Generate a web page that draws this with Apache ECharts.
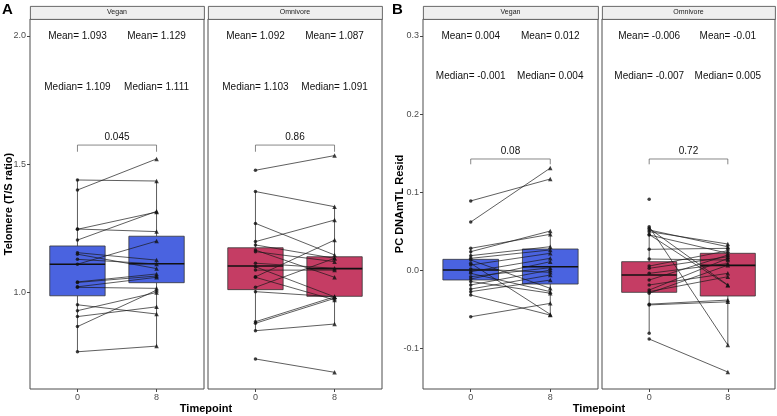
<!DOCTYPE html>
<html>
<head>
<meta charset="utf-8">
<script src="https://cdn.jsdelivr.net/npm/echarts@6/dist/echarts.min.js"></script>
<style>
  html, body { margin: 0; padding: 0; background: #fff; }
  #chart { width: 777px; height: 416px; }
</style>
</head>
<body>
<div id="chart"></div>
<script>
// categories
var timepoints = ['0', '8'];
var facets = ['Vegan', 'Omnivore'];

// panel A: telomere T/S ratio, one row per participant [week 0, week 8]
var telVegan = [
  [1.439, 1.435], [1.400, 1.521], [1.248, 1.238], [1.247, 1.314], [1.205, 1.317],
  [1.156, 1.127], [1.150, 1.094], [1.130, 1.112], [1.111, 1.201], [1.042, 1.073],
  [1.040, 1.065], [1.021, 1.017], [1.023, 1.060], [0.953, 0.917], [0.930, 1.001],
  [0.907, 0.945], [0.868, 1.010], [0.770, 0.792]
];
var telOmni = [
  [1.477, 1.534], [1.394, 1.335], [1.270, 1.147], [1.199, 1.283], [1.186, 1.134],
  [1.166, 1.060], [1.160, 1.121], [1.115, 1.095], [1.101, 0.984], [1.088, 1.088],
  [1.062, 1.205], [1.060, 0.972], [1.021, 1.134], [1.004, 0.984], [0.887, 0.984],
  [0.881, 0.978], [0.852, 0.878], [0.742, 0.690]
];

// panel B: PC DNAmTL residuals [week 0, week 8]
var dnaVegan = [
  [0.089, 0.117], [0.062, 0.131], [0.0284, 0.0463], [0.0241, 0.0505], [0.019, 0.0305],
  [0.0156, 0.0263], [0.0134, -0.0228], [0.0092, -0.0561], [0.007, 0.022], [0.002, -0.0023],
  [-0.0015, 0.0156], [-0.0036, -0.027], [-0.0079, 0.0036], [-0.0109, 0.0113], [-0.014, -0.029],
  [-0.0185, 0.0006], [-0.0237, -0.0058], [-0.027, -0.0122], [-0.0313, -0.057], [-0.0591, -0.042]
];
var dnaOmni = [
  [0.056, -0.0953], [0.0539, -0.0185], [0.0518, 0.0304], [0.0497, 0.0339], [0.0455, 0.022],
  [0.046, -0.019], [0.0271, 0.0284], [0.0147, 0.0134], [0.0057, 0.0253], [0.0028, 0.0176],
  [-0.0036, 0.0089], [-0.0122, 0.0198], [-0.0185, -0.0036], [-0.025, 0.0155], [-0.027, -0.0079],
  [-0.029, 0.0068], [-0.044, -0.040], [-0.043, -0.0378], [-0.0876, -0.1298],
  [-0.0803, null], [0.091, null]
];

// box stats [min, q1, median, q3, max] for week 0 and week 8
var telVeganBox = [[0.772, 0.988, 1.111, 1.182, 1.442], [0.790, 1.039, 1.113, 1.220, 1.434]];
var telOmniBox = [[0.852, 1.012, 1.104, 1.175, 1.394], [0.877, 0.986, 1.094, 1.140, 1.335]];
var dnaVeganBox = [[-0.031, -0.0121, 0.0006, 0.0143, 0.028], [-0.0578, -0.0173, 0.0049, 0.0275, 0.0476]];
var dnaOmniBox = [[-0.0803, -0.0279, -0.0058, 0.0113, 0.056], [-0.0953, -0.0326, 0.0066, 0.022, 0.0339]];

// annotation texts
var telMean = [['1.093', '1.129'], ['1.092', '1.087']];
var telMedian = [['1.109', '1.111'], ['1.103', '1.091']];
var dnaMean = [['0.004', '0.012'], ['-0.006', '-0.01']];
var dnaMedian = [['-0.001', '0.004'], ['-0.007', '0.005']];
var telP = ['0.045', '0.86'];
var dnaP = ['0.08', '0.72'];

// tick labels
var telTicks = [1.0, 1.5, 2.0];
var dnaTicks = [-0.1, 0.0, 0.1, 0.2, 0.3];

var FONT = "'Liberation Sans', Arial, sans-serif";
var BLUE = '#4a63e0';
var RED = '#c53d64';

// one entry per facet panel (layout + which data it uses)
var panels = [
  { left: 30, width: 174, facet: 0, min: 0.625, max: 2.066, ticks: telTicks, showY: true,
    pairs: telVegan, box: telVeganBox, color: BLUE, mean: telMean[0], median: telMedian[0], p: telP[0],
    meanY: 2.0, medianY: 1.8, pY: 1.607, brTop: 1.575, brBot: 1.549 },
  { left: 208, width: 174, facet: 1, min: 0.625, max: 2.066, ticks: telTicks, showY: false,
    pairs: telOmni, box: telOmniBox, color: RED, mean: telMean[1], median: telMedian[1], p: telP[1],
    meanY: 2.0, medianY: 1.8, pY: 1.607, brTop: 1.575, brBot: 1.549 },
  { left: 423, width: 175, facet: 0, min: -0.1515, max: 0.3216, ticks: dnaTicks, showY: true,
    pairs: dnaVegan, box: dnaVeganBox, color: BLUE, mean: dnaMean[0], median: dnaMedian[0], p: dnaP[0],
    meanY: 0.3, medianY: 0.249, pY: 0.152, brTop: 0.1426, brBot: 0.1358 },
  { left: 602, width: 173, facet: 1, min: -0.1515, max: 0.3216, ticks: dnaTicks, showY: false,
    pairs: dnaOmni, box: dnaOmniBox, color: RED, mean: dnaMean[1], median: dnaMedian[1], p: dnaP[1],
    meanY: 0.3, medianY: 0.249, pY: 0.152, brTop: 0.1426, brBot: 0.1358 }
];

var TOP = 19, HEIGHT = 370, BOXW = 0.7;

var grids = [], xAxes = [], yAxes = [], series = [], graphics = [];

panels.forEach(function (pn, i) {
  grids.push({ left: pn.left, top: TOP, width: pn.width, height: HEIGHT,
    show: true, borderColor: '#4d4d4d', borderWidth: 1, backgroundColor: '#fff' });

  xAxes.push({
    gridIndex: i, type: 'value', min: -0.6, max: 1.6, position: 'bottom',
    splitLine: { show: false }, axisLine: { show: false, onZero: false },
    axisTick: { show: true, customValues: [0, 1], length: 3, lineStyle: { color: '#444' } },
    axisLabel: { customValues: [0, 1], margin: 4, color: '#4d4d4d', fontSize: 9, fontFamily: FONT,
      formatter: function (v) { return timepoints[Math.round(v)]; } }
  });
  yAxes.push({
    gridIndex: i, type: 'value', min: pn.min, max: pn.max, position: 'left',
    splitLine: { show: false }, axisLine: { show: false, onZero: false },
    axisTick: { show: pn.showY, customValues: pn.ticks, length: 3, lineStyle: { color: '#444' } },
    axisLabel: { show: pn.showY, customValues: pn.ticks, margin: 4, color: '#4d4d4d', fontSize: 9,
      fontFamily: FONT, formatter: function (v) { return v.toFixed(1); } }
  });

  // boxes
  var boxData = pn.box.map(function (b, k) { return [k].concat(b); });
  series.push({
    type: 'custom', xAxisIndex: i, yAxisIndex: i, z: 1, data: boxData,
    renderItem: function (params, api) {
      var x = api.value(0);
      var lo = api.coord([x, api.value(1)]);
      var q1 = api.coord([x, api.value(2)]);
      var md = api.coord([x, api.value(3)]);
      var q3 = api.coord([x, api.value(4)]);
      var hi = api.coord([x, api.value(5)]);
      var half = api.size([BOXW, 0])[0] / 2;
      return { type: 'group', children: [
        { type: 'line', shape: { x1: lo[0], y1: lo[1], x2: q1[0], y2: q1[1] }, style: { stroke: '#333', lineWidth: 0.8 } },
        { type: 'line', shape: { x1: q3[0], y1: q3[1], x2: hi[0], y2: hi[1] }, style: { stroke: '#333', lineWidth: 0.8 } },
        { type: 'rect', shape: { x: q3[0] - half, y: q3[1], width: half * 2, height: q1[1] - q3[1] },
          style: { fill: pn.color, stroke: '#333', lineWidth: 0.8 } },
        { type: 'line', shape: { x1: md[0] - half, y1: md[1], x2: md[0] + half, y2: md[1] },
          style: { stroke: '#111', lineWidth: 1.6 } }
      ] };
    }
  });

  // paired lines
  series.push({
    type: 'custom', xAxisIndex: i, yAxisIndex: i, z: 2,
    data: pn.pairs.filter(function (r) { return r[1] !== null; }),
    renderItem: function (params, api) {
      var a = api.coord([0, api.value(0)]);
      var b = api.coord([1, api.value(1)]);
      return { type: 'line', shape: { x1: a[0], y1: a[1], x2: b[0], y2: b[1] },
        style: { stroke: '#1a1a1a', lineWidth: 0.7 } };
    }
  });

  // points
  series.push({
    type: 'scatter', xAxisIndex: i, yAxisIndex: i, z: 3, symbol: 'circle', symbolSize: 3.5,
    itemStyle: { color: '#111' }, silent: true,
    data: pn.pairs.map(function (r) { return [0, r[0]]; })
  });
  series.push({
    type: 'scatter', xAxisIndex: i, yAxisIndex: i, z: 3, symbol: 'triangle', symbolSize: 4.5,
    itemStyle: { color: '#111' }, silent: true,
    data: pn.pairs.filter(function (r) { return r[1] !== null; }).map(function (r) { return [1, r[1]]; })
  });

  // mean / median text and p-value bracket
  series.push({
    type: 'custom', xAxisIndex: i, yAxisIndex: i, z: 4, data: [[0]],
    renderItem: function (params, api) {
      var kids = [];
      [0, 1].forEach(function (k) {
        var pm = api.coord([k, pn.meanY]);
        var pd = api.coord([k, pn.medianY]);
        kids.push({ type: 'text', x: pm[0], y: pm[1], style: { text: 'Mean= ' + pn.mean[k],
          fontSize: 10, fontFamily: FONT, fill: '#111', align: 'center', verticalAlign: 'middle' } });
        kids.push({ type: 'text', x: pd[0], y: pd[1], style: { text: 'Median= ' + pn.median[k],
          fontSize: 10, fontFamily: FONT, fill: '#111', align: 'center', verticalAlign: 'middle' } });
      });
      var l0 = api.coord([0, pn.brBot]), l1 = api.coord([0, pn.brTop]);
      var r0 = api.coord([1, pn.brBot]), r1 = api.coord([1, pn.brTop]);
      var pt = api.coord([0.5, pn.pY]);
      kids.push({ type: 'polyline', shape: { points: [l0, l1, r1, r0] },
        style: { stroke: '#555', lineWidth: 0.7, fill: null } });
      kids.push({ type: 'text', x: pt[0], y: pt[1], style: { text: pn.p,
        fontSize: 10, fontFamily: FONT, fill: '#111', align: 'center', verticalAlign: 'middle' } });
      return { type: 'group', children: kids };
    }
  });

  // facet strip
  graphics.push({ type: 'rect', left: pn.left, top: 6, shape: { width: pn.width, height: 13 },
    style: { fill: '#efefef', stroke: '#444', lineWidth: 0.8 } });
  graphics.push({ type: 'text', x: pn.left + pn.width / 2, y: 12.5,
    style: { text: facets[pn.facet], fontSize: 7, fontFamily: FONT, fill: '#1a1a1a',
      align: 'center', verticalAlign: 'middle' } });
});

// titles and panel letters
graphics.push(
  { type: 'text', x: 2, y: 2, style: { text: 'A', fontSize: 15, fontWeight: 'bold', fontFamily: FONT, fill: '#000' } },
  { type: 'text', x: 392, y: 2, style: { text: 'B', fontSize: 15, fontWeight: 'bold', fontFamily: FONT, fill: '#000' } },
  { type: 'text', x: 9, y: 204, rotation: Math.PI / 2,
    style: { text: 'Telomere (T/S ratio)', fontSize: 11, fontWeight: 'bold', fontFamily: FONT, fill: '#000',
      align: 'center', verticalAlign: 'middle' } },
  { type: 'text', x: 400, y: 204, rotation: Math.PI / 2,
    style: { text: 'PC DNAmTL Resid', fontSize: 11, fontWeight: 'bold', fontFamily: FONT, fill: '#000',
      align: 'center', verticalAlign: 'middle' } },
  { type: 'text', x: 206, y: 409,
    style: { text: 'Timepoint', fontSize: 11, fontWeight: 'bold', fontFamily: FONT, fill: '#000',
      align: 'center', verticalAlign: 'middle' } },
  { type: 'text', x: 599, y: 409,
    style: { text: 'Timepoint', fontSize: 11, fontWeight: 'bold', fontFamily: FONT, fill: '#000',
      align: 'center', verticalAlign: 'middle' } }
);

var chart = echarts.init(document.getElementById('chart'));
chart.setOption({
  animation: false,
  backgroundColor: '#fff',
  grid: grids,
  xAxis: xAxes,
  yAxis: yAxes,
  series: series,
  graphic: graphics
});
</script>
</body>
</html>
